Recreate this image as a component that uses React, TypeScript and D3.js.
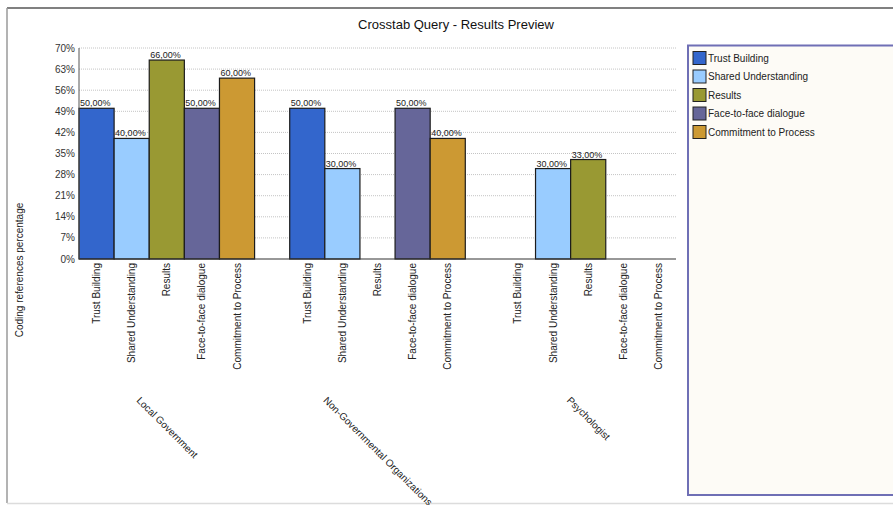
import React, { useEffect, useRef } from "react";
import * as d3 from "d3";

// Coding reference percentages per organisation type and theme
const groups = ["Local Government", "Non-Governmental Organizations", "Psychologist"];
const series = [
  "Trust Building",
  "Shared Understanding",
  "Results",
  "Face-to-face dialogue",
  "Commitment to Process",
];
const trustBuilding = [50, 50, 0];
const sharedUnderstanding = [40, 30, 30];
const results = [66, 0, 33];
const faceToFace = [50, 50, 0];
const commitment = [60, 40, 0];
const seriesValues = [trustBuilding, sharedUnderstanding, results, faceToFace, commitment];
const seriesColors = ["#3366cc", "#99ccff", "#999933", "#666699", "#cc9933"];
const yTicks = [0, 7, 14, 21, 28, 35, 42, 49, 56, 63, 70];

const W = 893;
const H = 505;
const FONT = "'Liberation Sans', Arial, sans-serif";

export default function App() {
  const ref = useRef<SVGSVGElement | null>(null);

  useEffect(() => {
    const svg = d3.select(ref.current);
    svg.selectAll("*").remove();

    const plot = { left: 79, right: 676, top: 48, bottom: 259 };

    const x0 = d3
      .scaleBand<string>()
      .domain(groups)
      .range([plot.left, plot.right])
      .paddingInner(1 / 6)
      .paddingOuter(0);
    const x1 = d3.scaleBand<string>().domain(series).range([0, x0.bandwidth()]);
    const y = d3.scaleLinear().domain([0, 70]).range([plot.bottom, plot.top]);

    // outer frame
    svg.append("rect").attr("width", W).attr("height", H).attr("fill", "#ffffff");
    svg
      .append("line")
      .attr("x1", 7).attr("x2", W).attr("y1", 8).attr("y2", 8)
      .attr("stroke", "#808080").attr("stroke-width", 2);
    svg
      .append("line")
      .attr("x1", 7).attr("x2", 7).attr("y1", 8).attr("y2", 503)
      .attr("stroke", "#9a9a9a").attr("stroke-width", 1.5);
    svg
      .append("line")
      .attr("x1", 7).attr("x2", W).attr("y1", 503.5).attr("y2", 503.5)
      .attr("stroke", "#dcdcdc").attr("stroke-width", 1.5);

    // title
    svg
      .append("text")
      .attr("x", 456).attr("y", 28.5)
      .attr("text-anchor", "middle")
      .attr("font-family", FONT).attr("font-size", 13).attr("fill", "#111")
      .text("Crosstab Query - Results Preview");

    // gridlines
    svg
      .append("g")
      .selectAll("line")
      .data(yTicks.filter((t) => t > 0))
      .join("line")
      .attr("x1", plot.left).attr("x2", plot.right)
      .attr("y1", (d) => y(d)).attr("y2", (d) => y(d))
      .attr("stroke", "#c4c4c4").attr("stroke-dasharray", "1,1");

    // y tick labels
    svg
      .append("g")
      .selectAll("text")
      .data(yTicks)
      .join("text")
      .attr("x", 75).attr("y", (d) => y(d) + 3.5)
      .attr("text-anchor", "end")
      .attr("font-family", FONT).attr("font-size", 10).attr("fill", "#333")
      .text((d) => `${d}%`);

    // y axis title
    svg
      .append("text")
      .attr("transform", `translate(23,270) rotate(-90)`)
      .attr("text-anchor", "middle")
      .attr("font-family", FONT).attr("font-size", 10).attr("fill", "#222")
      .text("Coding references percentage");

    // bars
    const gBars = svg.append("g");
    groups.forEach((g, gi) => {
      series.forEach((s, si) => {
        const v = seriesValues[si][gi];
        if (!v) return;
        const bx = (x0(g) as number) + (x1(s) as number);
        gBars
          .append("rect")
          .attr("x", bx).attr("y", y(v))
          .attr("width", x1.bandwidth()).attr("height", y(0) - y(v))
          .attr("fill", seriesColors[si])
          .attr("stroke", "#1c1c1c").attr("stroke-width", 1.2);
        gBars
          .append("text")
          .attr("x", bx + 1).attr("y", y(v) - 2)
          .attr("font-family", FONT).attr("font-size", 9).attr("fill", "#222")
          .text(`${v.toFixed(2).replace(".", ",")}%`);
      });
    });

    // axes lines
    svg
      .append("line")
      .attr("x1", plot.left).attr("x2", plot.left)
      .attr("y1", plot.top).attr("y2", plot.bottom)
      .attr("stroke", "#555");
    svg
      .append("line")
      .attr("x1", plot.left).attr("x2", plot.right)
      .attr("y1", plot.bottom).attr("y2", plot.bottom)
      .attr("stroke", "#333").attr("stroke-width", 1.2);

    // category labels under each bar slot
    const gCat = svg.append("g");
    groups.forEach((g) => {
      series.forEach((s) => {
        const cx = (x0(g) as number) + (x1(s) as number) + x1.bandwidth() / 2;
        gCat
          .append("text")
          .attr("transform", `translate(${cx},263) rotate(-90)`)
          .attr("dy", "0.35em")
          .attr("text-anchor", "end")
          .attr("font-family", FONT).attr("font-size", 10).attr("fill", "#222")
          .text(s);
      });
    });

    // group labels, slanted
    const c45 = Math.SQRT1_2;
    groups.forEach((g) => {
      const cx = (x0(g) as number) + x0.bandwidth() / 2;
      const t = svg
        .append("text")
        .attr("font-family", FONT).attr("font-size", 10).attr("fill", "#222")
        .text(g);
      const len = (t.node() as SVGTextElement).getComputedTextLength();
      const sx = cx - (len / 2) * c45 - 2;
      t.attr("transform", `translate(${sx},401) rotate(45)`);
    });

    // legend
    svg
      .append("rect")
      .attr("x", 688).attr("y", 45.5)
      .attr("width", 260).attr("height", 449.5)
      .attr("fill", "#fdfbf6")
      .attr("stroke", "#6f6fb5").attr("stroke-width", 2);
    const leg = svg
      .append("g")
      .selectAll("g")
      .data(series)
      .join("g")
      .attr("transform", (_, i) => `translate(693,${51.5 + i * 18.5})`);
    leg
      .append("rect")
      .attr("width", 13).attr("height", 13)
      .attr("fill", (_, i) => seriesColors[i])
      .attr("stroke", "#222").attr("stroke-width", 1);
    leg
      .append("text")
      .attr("x", 15).attr("y", 10)
      .attr("font-family", FONT).attr("font-size", 10).attr("fill", "#222")
      .text((d) => d);
  }, []);

  return (
    <svg
      ref={ref}
      width={W}
      height={H}
      style={{ position: "absolute", left: 0, top: 0, display: "block" }}
    />
  );
}
